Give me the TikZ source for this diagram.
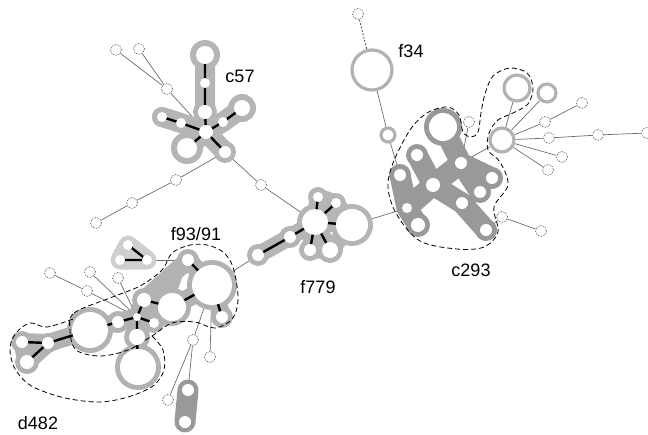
\documentclass[tikz,border=0pt]{standalone}
\usepackage{fontspec}
\setmainfont{Liberation Sans}
\pgfdeclarelayer{bgA}\pgfdeclarelayer{bgB}\pgfdeclarelayer{bgC}
\pgfsetlayers{bgA,bgB,bgC,main}
\tikzset{
  leaf/.style={circle,draw=black!70,densely dotted,line width=0.7pt,fill=white,inner sep=0pt,minimum size=11pt},
  inn/.style={circle,fill=white,inner sep=0pt,minimum size=#1},
  ringn/.style={circle,draw=gray!60,line width=3.2pt,fill=white,inner sep=0pt,minimum size=#1},
  link/.style={gray!85!black,line width=0.7pt},
  blk/.style={black,line width=2.4pt},
  hl/.style={line cap=round,line join=round},
  outl/.style={black,dashed,line width=0.8pt,dash pattern=on 5pt off 3pt},
  lbl/.style={font=\fontsize{18}{20}\selectfont,inner sep=0pt}
}
\begin{document}
\begin{tikzpicture}[x=1pt,y=-1pt]
\useasboundingbox (0,0) rectangle (648,434);
% ---- c57 group
\node[inn=18pt] (a1) at (205,55) {};
\node[inn=10pt] (a2) at (205,83) {};
\node[inn=14pt] (a3) at (205,112) {};
\node[inn=14pt] (a0) at (206,132) {};
\node[inn=10pt] (a4) at (223,122) {};
\node[inn=16pt] (a5) at (242,108) {};
\node[inn=10pt] (a6) at (181,123) {};
\node[inn=10pt] (a7) at (162,117) {};
\node[inn=20pt] (a8) at (187,148) {};
\node[inn=12pt] (a9) at (225,152) {};
\node[leaf] (l1) at (116,50) {};
\node[leaf] (l2) at (139,49) {};
\node[leaf] (l3) at (167,89) {};
\node[leaf] (l4) at (176,180) {};
\node[leaf] (l5) at (132,203) {};
\node[leaf] (l6) at (96,223) {};
\node[leaf] (l7) at (261,185) {};
% ---- f779 group
\node[inn=26pt] (b0) at (315,222) {};
\node[inn=32pt] (b1) at (352,225) {};
\node[inn=10pt] (b2) at (318,197) {};
\node[inn=10pt] (b3) at (336,203) {};
\node[inn=12pt] (b4) at (310,250) {};
\node[inn=16pt] (b5) at (330,250) {};
\node[inn=12pt] (b6) at (290,237) {};
\node[inn=12pt] (b7) at (258,255) {};
% ---- c293 group
\node[inn=28pt] (c0) at (443,127) {};
\node[inn=12pt] (c1) at (461,163) {};
\node[inn=12pt] (c2) at (492,178) {};
\node[inn=12pt] (c3) at (480,192) {};
\node[inn=12pt] (c4) at (417,155) {};
\node[inn=14pt] (c5) at (433,185) {};
\node[inn=12pt] (c6) at (462,203) {};
\node[inn=12pt] (c7) at (486,230) {};
\node[inn=12pt] (c8) at (400,175) {};
\node[inn=10pt] (c9) at (407,208) {};
\node[inn=14pt] (c10) at (418,225) {};
\node[leaf] (c11) at (469,122) {};
\node[leaf] (d1) at (502,217) {};
\node[leaf] (d2) at (541,231) {};
% ---- hub right
\node[ringn=24pt] (h0) at (502,140) {};
\node[ringn=26pt] (h1) at (517,88) {};
\node[ringn=18pt] (h2) at (547,93) {};
\node[leaf] (h3) at (545,122) {};
\node[leaf] (h4) at (582,103) {};
\node[leaf] (h5) at (549,138) {};
\node[leaf] (h6) at (598,135) {};
\node[leaf] (h7) at (647,133) {};
\node[leaf] (h8) at (562,157) {};
\node[leaf] (h9) at (548,170) {};
% ---- f34
\node[ringn=40pt] (f0) at (372,70) {};
\node[leaf] (f1) at (358,14) {};
\node[ringn=14pt] (f2) at (388,135) {};
% ---- f93/91 and d482
\node[inn=40pt] (g0) at (212,285) {};
\node[inn=12pt] (g1) at (188,260) {};
\node[inn=12pt] (g2) at (222,317) {};
\node[inn=28pt] (g3) at (172,307) {};
\node[inn=14pt] (g4) at (144,300) {};
\node[inn=8pt] (g5) at (137,317) {};
\node[inn=10pt] (g6) at (154,323) {};
\node[inn=12pt] (g7) at (118,322) {};
\node[inn=16pt] (g8) at (137,337) {};
\node[inn=36pt] (g9) at (138,367) {};
\node[inn=36pt] (g10) at (90,330) {};
\node[inn=12pt] (g11) at (48,343) {};
\node[inn=12pt] (g12) at (22,342) {};
\node[inn=14pt] (g13) at (27,362) {};
\node[inn=10pt] (t1) at (128,245) {};
\node[inn=10pt] (t2) at (120,260) {};
\node[inn=10pt] (t3) at (147,260) {};
\node[leaf] (k1) at (50,273) {};
\node[leaf] (k2) at (90,272) {};
\node[leaf] (k3) at (87,291) {};
\node[leaf] (k4) at (118,278) {};
\node[leaf] (k5) at (193,340) {};
\node[leaf] (k6) at (210,357) {};
\node[leaf] (k7) at (168,400) {};
\node[inn=12pt] (p1) at (188,390) {};
\node[inn=12pt] (p2) at (185,422) {};
% ---- labels
\node[lbl] (Lc57) at (240,76) {c57};
\node[lbl] (Lf34) at (411,51) {f34};
\node[lbl] (Lc293) at (471,270) {c293};
\node[lbl] (Lf779) at (318,287) {f779};
\node[lbl] (Lf93) at (196,234) {f93/91};
\node[lbl] (Ld482) at (38,423) {d482};

% ---- thin connectors
\begin{pgfonlayer}{bgA}
\draw[link] (l1) -- (l3); \draw[link] (l2) -- (l3); \draw[link] (l3) -- (a0);
\draw[link] (a9) -- (l4); \draw[link] (l4) -- (l5); \draw[link] (l5) -- (l6);
\draw[link] (a9) -- (l7); \draw[link] (l7) -- (b0);
\draw[link] (b1) -- (c9);
\draw[link] (b7) -- (g0);
\draw[black!70,dashed,line width=0.8pt,dash pattern=on 2pt off 1.5pt] (f1) -- (f0);
\draw[link] (f0) -- (f2); \draw[link] (f2) -- (c8);
\draw[link] (h0) -- (h1); \draw[link] (h0) -- (h2);
\draw[link] (h0) -- (h3); \draw[link] (h3) -- (h4);
\draw[link] (h0) -- (h5); \draw[link] (h5) -- (h6); \draw[link] (h6) -- (h7);
\draw[link] (h0) -- (h8); \draw[link] (h0) -- (h9);
\draw[link] (h0) -- (c1); \draw[link] (c11) -- (c1);
\draw[link] (c7) -- (d1); \draw[link] (d1) -- (d2);
\draw[link] (k1) -- (k3); \draw[link] (k3) -- (g5);
\draw[link] (k2) -- (g5); \draw[link] (k4) -- (g5);
\draw[link] (t3) -- (g1);
\draw[link] (g0) -- (k5); \draw[link] (g0) -- (k6);
\draw[link] (k5) -- (k7); \draw[link] (k5) -- (p1);
\end{pgfonlayer}

% ---- halos
\begin{pgfonlayer}{bgB}
% c57
\draw[hl,gray!58,line width=20pt] (a1.center) -- (a2.center) -- (a3.center) -- (a0.center)
  (a0.center) -- (a4.center) -- (a5.center) (a0.center) -- (a6.center) -- (a7.center)
  (a0.center) -- (a8.center) (a0.center) -- (a9.center);
\fill[gray!58] (a1.center) circle[radius=15pt] (a5.center) circle[radius=14pt]
  (a8.center) circle[radius=16pt] (a9.center) circle[radius=11pt] (a7.center) circle[radius=10pt]
  (a0.center) circle[radius=12pt] (a3.center) circle[radius=12pt];
% f779
\draw[hl,gray!58,line width=17pt] (b0.center) -- (b2.center) (b0.center) -- (b3.center)
  (b0.center) -- (b1.center) (b0.center) -- (b4.center) (b0.center) -- (b5.center)
  (b0.center) -- (b6.center) -- (b7.center) (b2.center) -- (b3.center) -- (b1.center)
  (b4.center) -- (b5.center) -- (b1.center);
\fill[gray!58] (b0.center) circle[radius=18pt] (b1.center) circle[radius=21pt]
  (b2.center) circle[radius=10pt] (b3.center) circle[radius=10pt] (b4.center) circle[radius=11pt]
  (b5.center) circle[radius=13pt] (b6.center) circle[radius=11pt] (b7.center) circle[radius=11pt];
% c293
\draw[hl,gray!80,line width=21pt] (c0.center) -- (c1.center) -- (c2.center) (c1.center) -- (c3.center)
  (c4.center) -- (c5.center) -- (c6.center) -- (c7.center)
  (c8.center) -- (c9.center) -- (c10.center) (c9.center) -- (c5.center) -- (c1.center);
\fill[gray!80] (c0.center) circle[radius=19pt] (c2.center) circle[radius=11pt] (c3.center) circle[radius=11pt]
  (c7.center) circle[radius=11pt] (c10.center) circle[radius=12pt] (c8.center) circle[radius=11pt]
  (c4.center) circle[radius=11pt];
% d482 / f93
\fill[gray!60] (g1.center) -- (g4.center) -- (g5.center) -- (g3.center) -- cycle;
\draw[hl,gray!60,line width=18pt] (g0.center) -- (g1.center) (g0.center) -- (g2.center)
  (g0.center) -- (g3.center) -- (g4.center) -- (g5.center) (g1.center) -- (g4.center)
  (g5.center) -- (g6.center) (g3.center) -- (g6.center) (g5.center) -- (g7.center) -- (g10.center) -- (g11.center)
  (g5.center) -- (g8.center) -- (g9.center) (g11.center) -- (g12.center) -- (g13.center) -- (g11.center);
\fill[gray!60] (g0.center) circle[radius=25pt] (g1.center) circle[radius=11pt] (g2.center) circle[radius=11pt]
  (g3.center) circle[radius=19pt] (g4.center) circle[radius=12pt] (g5.center) circle[radius=10pt]
  (g6.center) circle[radius=10pt] (g7.center) circle[radius=11pt] (g8.center) circle[radius=13pt]
  (g9.center) circle[radius=23pt] (g10.center) circle[radius=23pt] (g11.center) circle[radius=10pt]
  (g12.center) circle[radius=11pt] (g13.center) circle[radius=12pt];
% triad
\draw[hl,gray!38,line width=19pt] (t1.center) -- (t2.center) -- (t3.center) -- cycle;
% pair
\draw[hl,gray!80,line width=21pt] (p1.center) -- (p2.center);
\end{pgfonlayer}

% ---- black links and outlines
\begin{pgfonlayer}{bgC}
\draw[blk] (a1.center) -- (a2.center) -- (a3.center) -- (a0.center)
  (a0.center) -- (a4.center) -- (a5.center) (a0.center) -- (a6.center) -- (a7.center)
  (a0.center) -- (a8.center) (a0.center) -- (a9.center);
\draw[blk] (b0.center) -- (b1.center) (b0.center) -- (b2.center) (b0.center) -- (b3.center)
  (b0.center) -- (b4.center) (b0.center) -- (b5.center) (b0.center) -- (b6.center) -- (b7.center);
\draw[blk] (g0.center) -- (g1.center) (g0.center) -- (g2.center) (g0.center) -- (g3.center) -- (g4.center) -- (g5.center)
  (g5.center) -- (g6.center) (g5.center) -- (g7.center) -- (g10.center) -- (g11.center)
  (g5.center) -- (g8.center) -- (g9.center) (g11.center) -- (g12.center) (g11.center) -- (g13.center);
\draw[blk] (t1.center) -- (t3.center) -- (t2.center);
% c293 outline
\draw[outl] plot[smooth cycle,tension=0.55] coordinates {(393,163) (410,130) (427,113) (447,107) (459,115)
  (463,132) (471,137) (478,132) (481,113) (485,94) (493,76) (510,68) (527,73) (533,88) (528,104) (513,113)
  (498,120) (489,133) (488,150) (500,162) (508,185) (494,207) (498,232) (484,247) (457,249) (420,241)
  (397,215) (388,188)};
% f93/91 outline
\draw[outl] plot[smooth cycle,tension=0.55] coordinates {(70,331) (74,313) (110,298) (140,286) (162,270)
  (172,253) (190,245) (207,245) (223,252) (233,267) (238,297) (233,318) (215,328) (195,322) (172,323)
  (152,336) (128,350) (100,356) (76,350)};
% d482 outline
\draw[outl] plot[smooth,tension=0.55] coordinates {(73,319) (47,327) (30,323) (16,333) (10,348) (14,367)
  (27,383) (45,392) (70,399) (100,402) (128,397) (153,386) (164,370) (163,350) (152,336)};
\end{pgfonlayer}
\end{tikzpicture}
\end{document}
